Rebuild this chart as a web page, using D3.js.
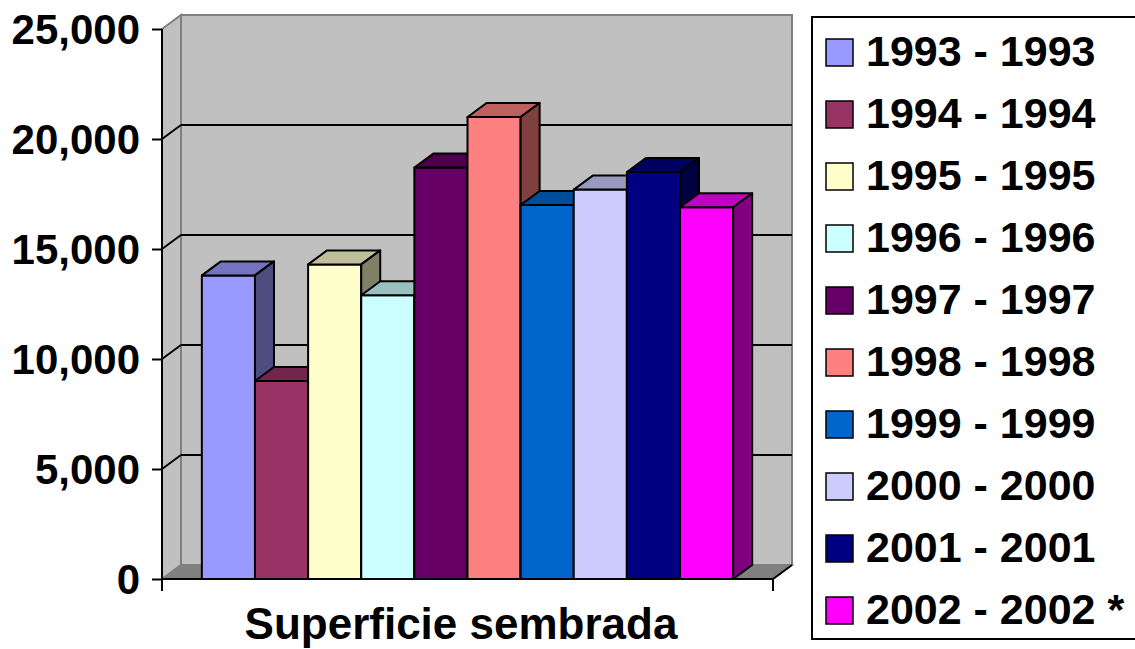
<!DOCTYPE html>
<html>
<head>
<meta charset="utf-8">
<title>Superficie sembrada</title>
<style>
  body { margin: 0; background: #fff; }
  svg { display: block; }
  text { font-family: "Liberation Sans", Arial, sans-serif; font-weight: bold; fill: #000; }
</style>
</head>
<body>
<script src="https://cdnjs.cloudflare.com/ajax/libs/d3/7.8.5/d3.min.js"></script>
<script>
// datos
var years = ['1993', '1994', '1995', '1996', '1997', '1998', '1999', '2000', '2001', '2002'];
var labels = ['1993 - 1993', '1994 - 1994', '1995 - 1995', '1996 - 1996', '1997 - 1997',
              '1998 - 1998', '1999 - 1999', '2000 - 2000', '2001 - 2001', '2002 - 2002 *'];
var values = [13800, 9000, 14300, 12900, 18700, 21000, 17000, 17700, 18500, 16900];
var colors = ['#9999FF', '#993366', '#FFFFCC', '#CCFFFF', '#660066',
              '#FF8080', '#0066CC', '#CCCCFF', '#000080', '#FF00FF'];
var yTicks = [0, 5000, 10000, 15000, 20000, 25000];
var category = 'Superficie sembrada';

var W = 1135, H = 649;
var DX = 19, DY = -14;   // profundidad 3D

var svg = d3.select('body').append('svg')
  .attr('width', W)
  .attr('height', H);

var x = d3.scaleBand().domain(years).range([162, 773]).paddingInner(0).paddingOuter(0.75);
var y = d3.scaleLinear().domain([0, 25000]).range([579, 29]);

function shade(c, k) {
  var r = d3.rgb(c);
  return d3.rgb(r.r * k, r.g * k, r.b * k).formatHex();
}
function pts(a) { return a.map(function(p){ return p.join(','); }).join(' '); }

var x0 = x.range()[0], x1 = x.range()[1];
var yTop = y(25000), yBot = y(0);

// pared del fondo
svg.append('rect')
  .attr('x', x0 + DX).attr('y', yTop + DY)
  .attr('width', x1 - x0).attr('height', yBot - yTop)
  .attr('fill', '#C0C0C0').attr('stroke', '#808080').attr('stroke-width', 2);

// pared izquierda
svg.append('polygon')
  .attr('points', pts([[x0, yTop], [x0 + DX, yTop + DY], [x0 + DX, yBot + DY], [x0, yBot]]))
  .attr('fill', '#C0C0C0').attr('stroke', '#808080').attr('stroke-width', 2);

// piso
svg.append('polygon')
  .attr('points', pts([[x0, yBot], [x1, yBot], [x1 + DX, yBot + DY], [x0 + DX, yBot + DY]]))
  .attr('fill', '#808080').attr('stroke', '#808080').attr('stroke-width', 1.5);
svg.append('line')
  .attr('x1', x1).attr('y1', yBot).attr('x2', x1 + DX).attr('y2', yBot + DY)
  .attr('stroke', '#000').attr('stroke-width', 2);

// lineas de division
var grid = yTicks.filter(function(v){ return v > 0 && v < 25000; });
svg.selectAll('.gback').data(grid).enter().append('line')
  .attr('x1', x0 + DX).attr('x2', x1 + DX)
  .attr('y1', function(d){ return y(d) + DY; })
  .attr('y2', function(d){ return y(d) + DY; })
  .attr('stroke', '#000').attr('stroke-width', 2);
svg.selectAll('.gside').data(grid).enter().append('line')
  .attr('x1', x0).attr('x2', x0 + DX)
  .attr('y1', function(d){ return y(d); })
  .attr('y2', function(d){ return y(d) + DY; })
  .attr('stroke', '#000').attr('stroke-width', 2);

// barras
var bars = svg.selectAll('.bar').data(years).enter().append('g').attr('class', 'bar');
bars.each(function(d, i) {
  var g = d3.select(this);
  var bx = x(d), bw = x.bandwidth(), by = y(values[i]);
  var c = colors[i];
  g.append('polygon')
    .attr('points', pts([[bx, by], [bx + bw, by], [bx + bw, yBot], [bx, yBot]]))
    .attr('fill', c);
  g.append('polygon')
    .attr('points', pts([[bx, by], [bx + DX, by + DY], [bx + bw + DX, by + DY], [bx + bw, by]]))
    .attr('fill', shade(c, 0.75));
  g.append('polygon')
    .attr('points', pts([[bx + bw, by], [bx + bw + DX, by + DY], [bx + bw + DX, yBot + DY], [bx + bw, yBot]]))
    .attr('fill', shade(c, 0.5));
  g.selectAll('polygon')
    .attr('stroke', '#000').attr('stroke-width', 2).attr('stroke-linejoin', 'round');
});

// eje de valores
var yAxis = d3.axisLeft(y)
  .tickValues(yTicks)
  .tickFormat(d3.format(','))
  .tickSize(10)
  .tickPadding(12);
var ga = svg.append('g').attr('transform', 'translate(' + x0 + ',0)').call(yAxis);
ga.select('.domain').attr('stroke', '#000').attr('stroke-width', 2).attr('d', 'M0,' + yTop + 'V' + yBot);
ga.selectAll('.tick line').attr('stroke', '#000').attr('stroke-width', 2);
ga.selectAll('.tick text')
  .attr('font-size', 42)
  .attr('font-family', '"Liberation Sans", Arial, sans-serif')
  .attr('font-weight', 'bold')
  .attr('fill', '#000')
  .attr('dy', '0.34em');

// eje de categorias
svg.append('line')
  .attr('x1', x0).attr('x2', x1).attr('y1', yBot).attr('y2', yBot)
  .attr('stroke', '#000').attr('stroke-width', 2);
svg.selectAll('.ctick').data([x0, x1]).enter().append('line')
  .attr('x1', function(d){ return d; }).attr('x2', function(d){ return d; })
  .attr('y1', yBot).attr('y2', yBot + 12)
  .attr('stroke', '#000').attr('stroke-width', 2);

svg.append('text')
  .attr('x', 461).attr('y', 639)
  .attr('text-anchor', 'middle')
  .attr('font-size', 44)
  .text(category);

// leyenda
var lg = svg.append('g');
lg.append('rect')
  .attr('x', 812).attr('y', 17).attr('width', 340).attr('height', 622)
  .attr('fill', '#fff').attr('stroke', '#000').attr('stroke-width', 2);
var items = lg.selectAll('.item').data(labels).enter().append('g')
  .attr('transform', function(d, i){ return 'translate(0,' + (52 + i * 62) + ')'; });
items.append('rect')
  .attr('x', 826).attr('y', -13).attr('width', 27).attr('height', 27)
  .attr('fill', function(d, i){ return colors[i]; })
  .attr('stroke', '#000').attr('stroke-width', 1.5);
items.append('text')
  .attr('x', 866).attr('y', 14)
  .attr('font-size', 43)
  .text(function(d){ return d; });
</script>
</body>
</html>
